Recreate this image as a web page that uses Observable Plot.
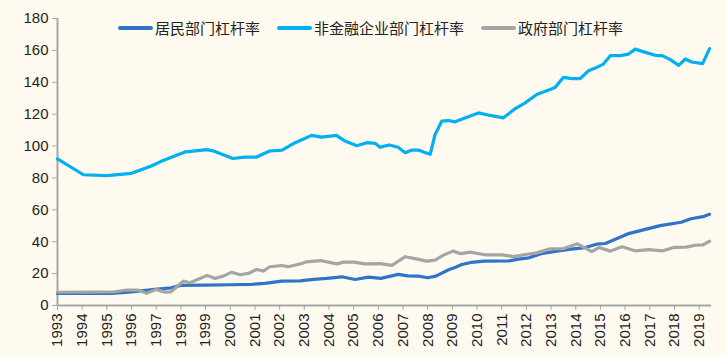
<!DOCTYPE html>
<html><head><meta charset="utf-8">
<script src="https://cdn.jsdelivr.net/npm/d3@7"></script>
<script src="https://cdn.jsdelivr.net/npm/@observablehq/plot@0.6"></script>
<style>
body{margin:0;background:#FFFAF0;}
#wrap{position:relative;width:727px;height:356px;background:#FFFAF0;}
#legend{position:absolute;left:118px;top:17px;display:flex;align-items:center;font-family:"Noto Sans CJK SC",sans-serif;font-size:15px;color:#222;white-space:nowrap;}
.item{display:flex;align-items:center;margin-right:17px}
.sw{width:35px;height:4px;border-radius:2px;margin-right:2px}
</style></head><body><div id="wrap"><div id="legend"></div></div>
<script>
const seriesNames = ["居民部门杠杆率", "非金融企业部门杠杆率", "政府部门杠杆率"];
const seriesColors = ["#2E75C8", "#00B0F0", "#A5A5A5"];
const yearTicks = d3.range(1993, 2020);
const yTicks = [0, 20, 40, 60, 80, 100, 120, 140, 160, 180];

const hhT = [1993.0,1995.2,1996.0,1996.95,1997.6,1998.0,1999.0,2000.0,2000.87,2001.4,2002.09,2002.83,2003.37,2003.91,2004.52,2005.06,2005.6,2006.1,2006.81,2007.2,2007.63,2008.0,2008.33,2008.87,2009.11,2009.38,2009.75,2010.3,2011.3,2011.75,2012.1,2012.6,2013.23,2013.8,2014.31,2014.92,2015.2,2016.1,2016.7,2017.42,2018.27,2018.67,2019.15,2019.42];
const hhV = [7.6,7.6,8.6,10.1,11.1,12.6,12.8,13.0,13.3,13.9,15.3,15.5,16.4,17.0,18.0,16.3,17.8,17.0,19.5,18.6,18.4,17.4,18.4,22.6,23.8,25.7,27.0,27.8,28.0,29.2,29.9,32.5,34.1,35.3,36.1,38.7,38.9,44.9,47.3,50.1,52.2,54.4,55.7,57.2];

const corpT = [1993.0,1994.05,1995.0,1996.0,1996.8,1997.2,1998.17,1998.6,1999.05,1999.3,2000.1,2000.6,2001.07,2001.6,2002.1,2002.63,2003.3,2003.7,2004.3,2004.65,2005.13,2005.53,2005.87,2006.07,2006.45,2006.8,2007.09,2007.36,2007.63,2007.83,2008.1,2008.3,2008.57,2008.84,2009.11,2009.59,2010.06,2010.53,2011.07,2011.55,2011.95,2012.42,2012.96,2013.17,2013.5,2013.84,2014.18,2014.52,2014.79,2015.12,2015.4,2015.8,2016.14,2016.41,2016.82,2017.22,2017.5,2017.83,2018.17,2018.44,2018.7,2019.14,2019.42];
const corpV = [92,82,81.4,82.9,87.5,90.4,96.3,97,97.8,97,92.2,93.1,93.1,96.9,97.5,102.1,106.7,105.6,106.7,103.1,100.2,102.1,101.7,99.3,100.7,99.2,95.8,97.5,97.5,96.3,94.8,107.3,115.6,116,115.2,118.1,120.8,119.2,117.7,123.5,127.1,132.3,135.4,136.9,143.1,142.3,142.3,147.3,148.9,151.4,156.7,156.7,157.7,160.8,158.75,156.9,156.7,154.2,150.6,154.6,152.7,151.7,161.1];

const govT = [1993.0,1995.3,1995.8,1996.28,1996.6,1997.0,1997.36,1997.6,1998.1,1998.37,1998.7,1999.07,1999.38,1999.72,2000.06,2000.4,2000.73,2001.07,2001.34,2001.6,2002.09,2002.36,2002.9,2003.1,2003.64,2004.32,2004.59,2005.0,2005.46,2006.07,2006.55,2007.09,2007.53,2007.95,2008.3,2008.64,2009.02,2009.35,2009.72,2010.33,2011.0,2011.48,2011.95,2012.42,2012.96,2013.5,2014.07,2014.65,2014.95,2015.4,2015.87,2016.4,2016.95,2017.53,2017.97,2018.48,2018.84,2019.15,2019.42];
const govV = [8.3,8.6,9.7,9.7,7.6,10.1,8.4,8.6,15.3,14.3,16.4,18.9,17,18.4,20.9,19.3,20.1,22.6,21.6,24.3,25.1,24.3,26.3,27.4,28.2,26.1,27.2,27.2,26.1,26.3,25.2,30.6,29.2,27.8,28.5,31.6,34.1,32.5,33.5,31.8,31.8,30.7,32,33,35.5,35.7,38.7,33.8,36.4,34.1,36.9,34.3,35.1,34.3,36.4,36.6,37.8,38,40.3];

const toRows = (T, V) => T.map((t, i) => ({t, v: V[i]}));
const hh = toRows(hhT, hhV), corp = toRows(corpT, corpV), gov = toRows(govT, govV);

const lineOpts = (c) => ({x: "t", y: "v", stroke: c, strokeWidth: 3.2, strokeLinejoin: "round", strokeLinecap: "round"});

const chart = Plot.plot({
  width: 727, height: 356,
  marginLeft: 57, marginRight: 16, marginTop: 18, marginBottom: 51,
  style: {background: "transparent", fontFamily: "'Liberation Sans', Arial, sans-serif", fontSize: "15px", color: "#222"},
  x: {domain: [1993, 2019.5]},
  y: {domain: [0, 180]},
  marks: [
    Plot.axisY({ticks: yTicks, tickSize: 5, tickPadding: 4, stroke: "#A6A6A6", fill: "#222", label: null}),
    Plot.axisX({ticks: yearTicks, tickSize: 5, tickPadding: 3, tickRotate: -90, tickFormat: d => String(d), stroke: "#A6A6A6", fill: "#222", label: null}),
    Plot.ruleX([1993], {stroke: "#A6A6A6", strokeWidth: 2}),
    Plot.ruleY([0], {stroke: "#A6A6A6", strokeWidth: 2}),
    Plot.line(hh, lineOpts(seriesColors[0])),
    Plot.line(corp, lineOpts(seriesColors[1])),
    Plot.line(gov, lineOpts(seriesColors[2]))
  ]
});
document.getElementById("wrap").appendChild(chart);

const legend = document.getElementById("legend");
seriesNames.forEach((n, i) => {
  const it = document.createElement("div"); it.className = "item";
  const sw = document.createElement("div"); sw.className = "sw"; sw.style.background = seriesColors[i];
  const tx = document.createElement("span"); tx.textContent = n;
  it.appendChild(sw); it.appendChild(tx); legend.appendChild(it);
});
</script></body></html>
